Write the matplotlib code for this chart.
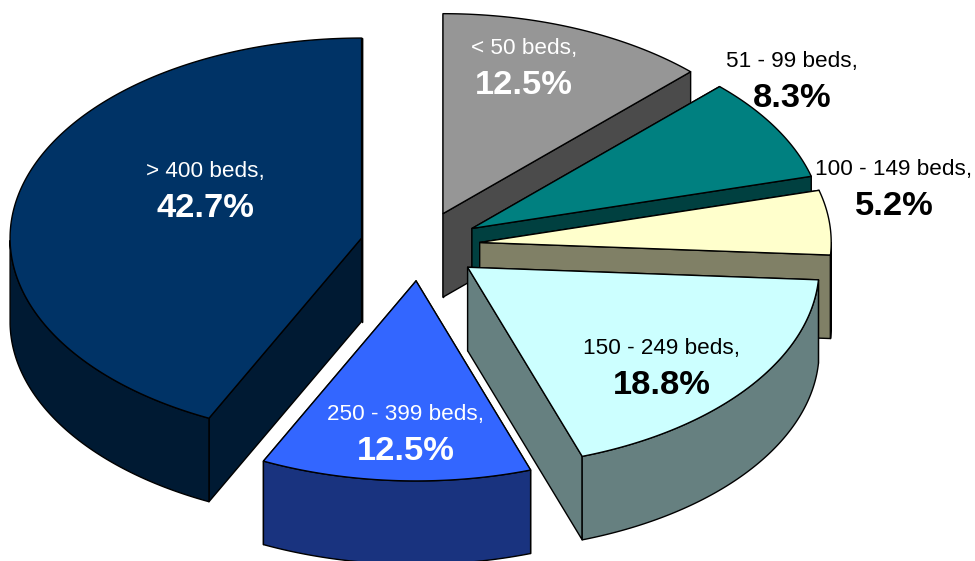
import numpy as np
import matplotlib
matplotlib.use("Agg")
import matplotlib.pyplot as plt
from matplotlib.patches import Polygon

categories = ["> 400 beds,", "< 50 beds,", "51 - 99 beds,", "100 - 149 beds,", "150 - 249 beds,", "250 - 399 beds,"]
shares = [42.7, 12.5, 8.3, 5.2, 18.8, 12.5]
# style and layout
top_colors = ["#003366", "#969696", "#008080", "#FFFFCC", "#CCFFFF", "#3366FF"]
side_colors = ["#001A33", "#4B4B4B", "#004040", "#808066", "#668080", "#19337F"]
text_colors = ["white", "white", "black", "black", "black", "white"]
label_xy = [(205.5, 171), (524, 48), (792, 61), (894, 169), (661.5, 348), (405.5, 414)]
edge_nudge = [0.55, 0.0, 0.2, 0.0, 0.0, 0.3, 0.55]  # projection correction of slice edges, degrees
LINE_GAP = 37
CX, CY, RX, RY, DEPTH, EXPLODE, TILT = 420, 246, 351.5, 200, 83.5, 60, 35 / 60

plt.rcParams["font.family"] = "Liberation Sans"
fig = plt.figure(figsize=(9.75, 5.61), dpi=100, facecolor="white")
ax = fig.add_axes([0, 0, 1, 1])
ax.set_xlim(0, 975)
ax.set_ylim(561, 0)
ax.axis("off")

def poly(pts, color, z):
    ax.add_patch(Polygon(pts, closed=True, facecolor=color, edgecolor="black",
                         linewidth=1.0, joinstyle="round", zorder=z))

total = 100.0
angle = 90 + shares[0] / total * 360  # first slice runs counter-clockwise from the top
for i, (share, top, side) in enumerate(zip(shares, top_colors, side_colors)):
    a0 = angle
    a1 = angle - share / total * 360
    angle = a1
    mid = np.radians((a0 + a1) / 2)
    ox = CX + EXPLODE * np.cos(mid)
    oy = CY - EXPLODE * TILT * np.sin(mid)
    th = np.radians(np.linspace(a0 + edge_nudge[i], a1 + edge_nudge[i + 1], 200))
    arc = np.column_stack([ox + RX * np.cos(th), oy - RY * np.sin(th)])
    apex = np.array([ox, oy])
    drop = np.array([0, DEPTH])
    z = 10 + i * 10
    # radial walls
    for end in (arc[0], arc[-1]):
        poly([apex, end, end + drop, apex + drop], side, z)
    # outer wall: only the part on the near side
    mask = np.sin(th) <= 0
    if mask.any():
        a = arc[mask]
        poly(np.vstack([a, (a + drop)[::-1]]), side, z + 1)
    # top face
    poly(np.vstack([apex, arc]), top, z + 2)

for name, share, col, (x, y) in zip(categories, shares, text_colors, label_xy):
    ax.text(x, y, name, color=col, fontsize=16.2, ha="center", va="center", zorder=100)
    ax.text(x, y + LINE_GAP, f"{share:.1f}%", color=col, fontsize=24.8, fontweight="bold",
            ha="center", va="center", zorder=100)

fig.savefig("out.png", dpi=100, facecolor="white")
